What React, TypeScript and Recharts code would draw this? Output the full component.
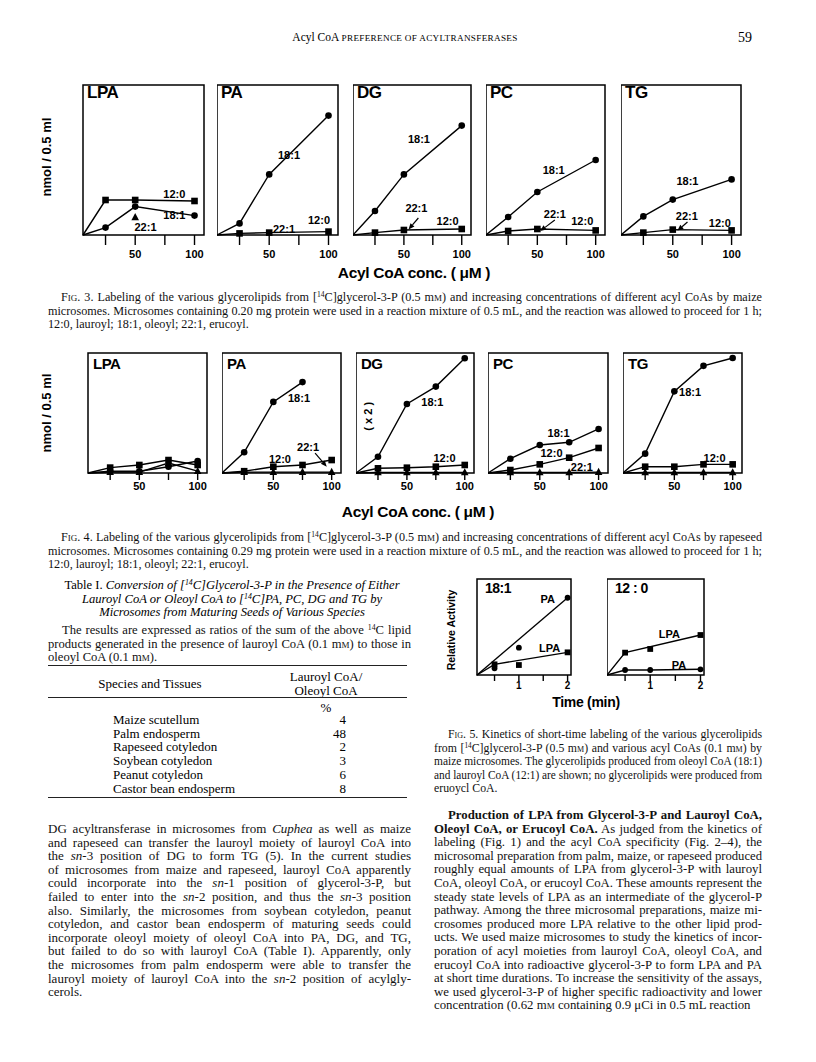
import React, { useLayoutEffect, useRef, useState } from 'react';
import { ComposedChart, Line, XAxis, YAxis, ReferenceArea, ReferenceDot, ReferenceLine } from 'recharts';

const SANS = '"Liberation Sans", Arial, Helvetica, sans-serif';
const SERIF = '"Liberation Serif", "Times New Roman", Times, serif';

// ---- Fig. 3: maize microsomes, nmol / 0.5 ml against acyl CoA conc. (uM)
// first x value is the origin drawn at the frame corner
const CONC_3 = [6, 25, 50, 100];
const LPA3_120 = [0, 0.175, 0.175, 0.17];
const LPA3_181 = [0, 0.037, 0.142, 0.097];
const LPA3_221 = [null, null, 0.088, null];
const PA3_181 = [0, 0.058, 0.303, 0.597];
const PA3_120 = [0, 0.008, 0.012, 0.017];
const DG3_181 = [0, 0.12, 0.303, 0.547];
const DG3_120 = [0, 0.012, 0.025, 0.03];
const PC3_181 = [0, 0.09, 0.215, 0.375];
const PC3_120 = [0, 0.02, 0.03, 0.023];
const TG3_181 = [0, 0.093, 0.177, 0.278];
const TG3_120 = [0, 0.012, 0.027, 0.023];

// ---- Fig. 4: rapeseed microsomes
const CONC_4 = [6, 25, 50, 75, 100];
const LPA4_120 = [0, 0.06, 0.089, 0.144, 0.089];
const LPA4_181 = [0, 0.02, 0.02, 0.07, 0.133];
const LPA4_221 = [0, 0.01, 0.01, 0.11, 0.02];
const PA4_181 = [0, 0.23, 0.79, 1.01, null];
const PA4_120 = [0, 0.02, 0.07, 0.089, 0.144];
const PA4_221 = [0, 0.01, 0.01, 0.01, 0.01];
const DG4_181 = [0, 0.18, 0.767, 0.96, 1.274];
const DG4_120 = [0, 0.052, 0.059, 0.07, 0.089];
const DG4_221 = [0, 0.005, 0.005, 0.005, 0.005];
const PC4_181 = [0, 0.159, 0.311, 0.341, 0.489];
const PC4_120 = [0, 0.033, 0.096, 0.17, 0.278];
const PC4_221 = [0, 0.005, 0.005, 0.005, 0.01];
const TG4_181 = [0, 0.215, 0.907, 1.19, 1.278];
const TG4_120 = [0, 0.07, 0.07, 0.096, 0.096];
const TG4_221 = [0, 0.005, 0.005, 0.005, 0.005];

// ---- Fig. 5: relative activity against time (min); fitted lines drawn separately from points
const TIME_5 = [0.14, 0.5, 1, 2];
const K18_PA_PTS = [null, 9, 36.4, 103];
const K18_PA_FIT = [0, null, null, 103];
const K18_LPA_PTS = [null, 14.2, 13.3, 30.2];
const K18_LPA_FIT = [0, 14.2, null, 30.2];
const K12_LPA_PTS = [null, 29.8, 34.7, 53.3];
const K12_LPA_FIT = [0, 29.8, null, 53.3];
const K12_PA_PTS = [null, 6.7, 6.7, 7.6];
const K12_PA_FIT = [0, 6.7, 6.7, 7.6];

// ---- Table I
const SPECIES = ['Maize scutellum', 'Palm endosperm', 'Rapeseed cotyledon', 'Soybean cotyledon', 'Peanut cotyledon', 'Castor bean endosperm'];
const RATIO = [4, 48, 2, 3, 6, 8];

const rowsOf = (xs: number[], cols: Record<string, (number | null)[]>) =>
  xs.map((x, i) => {
    const r: any = { x };
    Object.keys(cols).forEach((k) => (r[k] = cols[k][i]));
    return r;
  });

const markDot = (kind: string, s = 3.3) => (d: any) => {
  const { cx, cy, index, value } = d;
  if (index === 0 || value == null || cx == null || cy == null || isNaN(cy)) return <g key={`e${index}`} />;
  if (kind === 'circle') return <circle key={index} cx={cx} cy={cy} r={s} fill="#000" />;
  if (kind === 'square') return <rect key={index} x={cx - s} y={cy - s} width={s * 2} height={s * 2} fill="#000" />;
  return <path key={index} d={`M${cx},${cy - s * 1.3}L${cx + s * 1.15},${cy + s * 0.85}L${cx - s * 1.15},${cy + s * 0.85}Z`} fill="#000" />;
};

const arrowShape = (p: any) => {
  const { x1, y1, x2, y2 } = p;
  if (x1 == null || x2 == null) return <g />;
  const a = Math.atan2(y2 - y1, x2 - x1);
  const L = 6;
  const W = 2.6;
  const bx = x2 - L * Math.cos(a);
  const by = y2 - L * Math.sin(a);
  const px = -Math.sin(a) * W;
  const py = Math.cos(a) * W;
  return (
    <g>
      <line x1={x1} y1={y1} x2={bx} y2={by} stroke="#000" strokeWidth={1.2} />
      <path d={`M${x2},${y2}L${bx + px},${by + py}L${bx - px},${by - py}Z`} fill="#000" />
    </g>
  );
};

type Series = { key: string; mark?: string; line?: boolean };
type Note = { x: number; y: number; t: string; rot?: boolean };
type Arrow = { x1: number; y1: number; x2: number; y2: number };

interface PanelProps {
  left: number;
  top: number;
  w: number;
  h: number;
  title: string;
  titleSize: number;
  titleDx: number;
  titleDy: number;
  rows: any[];
  series: Series[];
  xDomain: [number, number];
  xTicks: number[];
  xLabel: (v: number) => string;
  tickSize: number;
  tickMargin: number;
  tickFont: number;
  yDomain: [number, number];
  yTicks: number[];
  yLabel?: (v: number) => string;
  labW?: number;
  labMargin?: number;
  notes?: Note[];
  arrows?: Arrow[];
  markSize?: number;
}

const Panel = (p: PanelProps) => {
  const labW = p.yLabel ? p.labW || 30 : 0;
  const pad = 3;
  const xh = 30;
  const W = labW + p.w + pad;
  const H = pad + p.h + xh;
  const tickFont = { fill: '#000', fontSize: p.tickFont, fontWeight: 700, fontFamily: SANS };
  return (
    <div style={{ position: 'absolute', left: p.left - labW, top: p.top - pad, width: W, height: H }}>
      <ComposedChart width={W} height={H} data={p.rows} margin={{ top: pad, right: pad, bottom: 0, left: 0 }}>
        <XAxis
          xAxisId="x"
          type="number"
          dataKey="x"
          domain={p.xDomain}
          ticks={p.xTicks}
          interval={0}
          tickFormatter={p.xLabel}
          height={xh}
          tickSize={p.tickSize}
          tickMargin={p.tickMargin}
          axisLine={false}
          tickLine={{ stroke: '#000', strokeWidth: 1.4 }}
          tick={tickFont}
        />
        <YAxis
          yAxisId="y"
          type="number"
          domain={p.yDomain}
          ticks={p.yTicks}
          mirror
          tick={false}
          tickSize={8}
          axisLine={false}
          tickLine={{ stroke: '#000', strokeWidth: 1.3 }}
        />
        {p.yLabel && (
          <YAxis
            yAxisId="lab"
            type="number"
            domain={p.yDomain}
            ticks={p.yTicks}
            width={labW}
            tickFormatter={p.yLabel}
            tickLine={false}
            axisLine={false}
            tickSize={0}
            tickMargin={p.labMargin || 3}
            tick={tickFont}
          />
        )}
        <ReferenceArea
          xAxisId="x"
          yAxisId="y"
          x1={p.xDomain[0]}
          x2={p.xDomain[1]}
          y1={p.yDomain[0]}
          y2={p.yDomain[1]}
          fill="none"
          fillOpacity={0}
          stroke="#000"
          strokeWidth={1.5}
          ifOverflow="visible"
        />
        {p.series.map((s) => (
          <Line
            key={s.key}
            xAxisId="x"
            yAxisId="y"
            dataKey={s.key}
            type="linear"
            stroke={s.line === false ? 'none' : '#000'}
            strokeWidth={1.4}
            dot={s.mark ? markDot(s.mark, p.markSize || 3.3) : false}
            activeDot={false}
            connectNulls
            isAnimationActive={false}
          />
        ))}
        {(p.arrows || []).map((a, i) => (
          <ReferenceLine
            key={`a${i}`}
            xAxisId="x"
            yAxisId="y"
            segment={[{ x: a.x1, y: a.y1 }, { x: a.x2, y: a.y2 }]}
            ifOverflow="visible"
            shape={arrowShape}
          />
        ))}
        {(p.notes || []).map((n, i) => (
          <ReferenceDot
            key={`n${i}`}
            xAxisId="x"
            yAxisId="y"
            x={n.x}
            y={n.y}
            r={0}
            ifOverflow="visible"
            shape={(d: any) => (
              <text
                x={d.cx}
                y={d.cy}
                textAnchor="middle"
                dominantBaseline="central"
                fontFamily={SANS}
                fontWeight={700}
                fontSize={11}
                fill="#000"
                transform={n.rot ? `rotate(-90 ${d.cx} ${d.cy})` : undefined}
              >
                {n.t}
              </text>
            )}
          />
        ))}
      </ComposedChart>
      <div
        style={{
          position: 'absolute',
          left: labW + p.titleDx,
          top: pad + p.titleDy,
          fontFamily: SANS,
          fontWeight: 700,
          fontSize: p.titleSize,
          lineHeight: `${p.titleSize}px`,
          letterSpacing: -0.5,
          whiteSpace: 'pre',
        }}
      >
        {p.title}
      </div>
    </div>
  );
};

const f50 = (v: number) => (v === 50 || v === 100 ? String(v) : '');
const f3y = (v: number) => v.toFixed(1);
const f5x = (v: number) => (v === 1 || v === 2 ? String(v) : '');

const S181: Series = { key: 'c181', mark: 'circle' };
const S120: Series = { key: 'c120', mark: 'square' };
const S221: Series = { key: 'c221', mark: 'triangle' };

const F3_COMMON = {
  top: 85,
  h: 150,
  titleSize: 17,
  titleDx: 4,
  titleDy: -1,
  xDomain: [6, 108] as [number, number],
  xTicks: [25, 50, 75, 100],
  xLabel: f50,
  tickSize: 10,
  tickMargin: 5,
  tickFont: 11,
  yDomain: [0, 0.75] as [number, number],
  yTicks: [0.3, 0.6],
};

const F4_COMMON = {
  top: 353,
  h: 120,
  titleSize: 15,
  titleDx: 5,
  titleDy: 3,
  xDomain: [6, 108] as [number, number],
  xTicks: [25, 50, 75, 100],
  xLabel: f50,
  tickSize: 7,
  tickMargin: 2,
  tickFont: 11,
  yDomain: [0, 1.333] as [number, number],
  yTicks: [0.5, 1.0],
};

const F5_COMMON = {
  top: 579,
  h: 96,
  titleSize: 14,
  titleDx: 8,
  titleDy: 2,
  xDomain: [0.14, 2.07] as [number, number],
  xTicks: [0.5, 1, 1.5, 2],
  xLabel: f5x,
  tickSize: 6,
  tickMargin: 1,
  tickFont: 10,
  yDomain: [0, 128] as [number, number],
  yTicks: [50, 100],
  markSize: 2.9,
};

const SC = ({ children }: any) => <span style={{ fontVariant: 'small-caps' }}>{children}</span>;
const MM = () => (
  <>
    m<SC>m</SC>
  </>
);
const Sup = ({ children }: any) => (
  <span style={{ fontSize: '0.62em', verticalAlign: '0.5em', lineHeight: 0 }}>{children}</span>
);

// one typeset line, justified to its measure (word spacing widened, or squeezed if too long)
const TLine = ({ x, y, w, indent = 0, last = false, size = 13, children }: any) => {
  const ref = useRef<HTMLSpanElement>(null);
  const [fit, setFit] = useState<any>(null);
  useLayoutEffect(() => {
    const el = ref.current;
    if (!el || fit) return;
    const nat = el.getBoundingClientRect().width;
    const avail = w - indent;
    const gaps = ((el.textContent || '').match(/ /g) || []).length;
    if (nat > avail) setFit({ transform: `scaleX(${avail / nat})` });
    else if (!last && gaps > 0) setFit({ wordSpacing: `${(avail - nat) / gaps}px` });
    else setFit({});
  }, [fit, w, indent, last]);
  return (
    <div
      style={{
        position: 'absolute',
        left: x + indent,
        top: y - 9,
        height: 18,
        lineHeight: '18px',
        fontFamily: SERIF,
        fontSize: size,
        color: '#111',
        whiteSpace: 'nowrap',
      }}
    >
      <span ref={ref} style={{ display: 'inline-block', transformOrigin: '0 50%', ...(fit || {}) }}>
        {children}
      </span>
    </div>
  );
};

const CText = ({ cx, cy, size, children, family = SANS, weight = 700, rot = false, style }: any) => (
  <div
    style={{
      position: 'absolute',
      left: cx,
      top: cy,
      transform: `translate(-50%, -50%)${rot ? ' rotate(-90deg)' : ''}`,
      whiteSpace: 'nowrap',
      fontFamily: family,
      fontWeight: weight,
      fontSize: size,
      lineHeight: 1,
      color: '#000',
      ...style,
    }}
  >
    {children}
  </div>
);

const LEFT_X = 48;
const LEFT_W = 363;
const RIGHT_X = 434;
const RIGHT_W = 328;
const FULL_W = 714;
const LEAD = 13.6;

const App = () => {
  const fig3Caption = [
    <>
      <SC>Fig.</SC> 3. Labeling of the various glycerolipids from [<Sup>14</Sup>C]glycerol-3-P (0.5 <MM />) and increasing concentrations of different acyl CoAs by maize
    </>,
    <>microsomes. Microsomes containing 0.20 mg protein were used in a reaction mixture of 0.5 mL, and the reaction was allowed to proceed for 1 h;</>,
    <>12:0, lauroyl; 18:1, oleoyl; 22:1, erucoyl.</>,
  ];
  const fig4Caption = [
    <>
      <SC>Fig.</SC> 4. Labeling of the various glycerolipids from [<Sup>14</Sup>C]glycerol-3-P (0.5 <MM />) and increasing concentrations of different acyl CoAs by rapeseed
    </>,
    <>microsomes. Microsomes containing 0.29 mg protein were used in a reaction mixture of 0.5 mL, and the reaction was allowed to proceed for 1 h;</>,
    <>12:0, lauroyl; 18:1, oleoyl; 22:1, erucoyl.</>,
  ];
  const fig5Caption = [
    <>
      <SC>Fig.</SC> 5. Kinetics of short-time labeling of the various glycerolipids
    </>,
    <>
      from [<Sup>14</Sup>C]glycerol-3-P (0.5 <MM />) and various acyl CoAs (0.1 <MM />) by
    </>,
    <>maize microsomes. The glycerolipids produced from oleoyl CoA (18:1)</>,
    <>and lauroyl CoA (12:1) are shown; no glycerolipids were produced from</>,
    <>eruoycl CoA.</>,
  ];
  const leftBody = [
    <>
      DG acyltransferase in microsomes from <i>Cuphea</i> as well as maize
    </>,
    <>and rapeseed can transfer the lauroyl moiety of lauroyl CoA into</>,
    <>
      the <i>sn</i>-3 position of DG to form TG (5). In the current studies
    </>,
    <>of microsomes from maize and rapeseed, lauroyl CoA apparently</>,
    <>
      could incorporate into the <i>sn</i>-1 position of glycerol-3-P, but
    </>,
    <>
      failed to enter into the <i>sn</i>-2 position, and thus the <i>sn</i>-3 position
    </>,
    <>also. Similarly, the microsomes from soybean cotyledon, peanut</>,
    <>cotyledon, and castor bean endosperm of maturing seeds could</>,
    <>incorporate oleoyl moiety of oleoyl CoA into PA, DG, and TG,</>,
    <>but failed to do so with lauroyl CoA (Table I). Apparently, only</>,
    <>the microsomes from palm endosperm were able to transfer the</>,
    <>
      lauroyl moiety of lauroyl CoA into the <i>sn</i>-2 position of acylgly-
    </>,
    <>cerols.</>,
  ];
  const rightBody = [
    <b>Production of LPA from Glycerol-3-P and Lauroyl CoA,</b>,
    <>
      <b>Oleoyl CoA, or Erucoyl CoA.</b> As judged from the kinetics of
    </>,
    <>labeling (Fig. 1) and the acyl CoA specificity (Fig. 2–4), the</>,
    <>microsomal preparation from palm, maize, or rapeseed produced</>,
    <>roughly equal amounts of LPA from glycerol-3-P with lauroyl</>,
    <>CoA, oleoyl CoA, or erucoyl CoA. These amounts represent the</>,
    <>steady state levels of LPA as an intermediate of the glycerol-P</>,
    <>pathway. Among the three microsomal preparations, maize mi-</>,
    <>crosomes produced more LPA relative to the other lipid prod-</>,
    <>ucts. We used maize microsomes to study the kinetics of incor-</>,
    <>poration of acyl moieties from lauroyl CoA, oleoyl CoA, and</>,
    <>erucoyl CoA into radioactive glycerol-3-P to form LPA and PA</>,
    <>at short time durations. To increase the sensitivity of the assays,</>,
    <>we used glycerol-3-P of higher specific radioactivity and lower</>,
    <>
      concentration (0.62 <MM /> containing 0.9 μCi in 0.5 mL reaction
    </>,
  ];
  const tableTitle = [
    <>
      Table I. <i>Conversion of [<Sup>14</Sup>C]Glycerol-3-P in the Presence of Either</i>
    </>,
    <i>
      Lauroyl CoA or Oleoyl CoA to [<Sup>14</Sup>C]PA, PC, DG and TG by
    </i>,
    <i>Microsomes from Maturing Seeds of Various Species</i>,
  ];
  const tableNote = [
    <>
      The results are expressed as ratios of the sum of the above <Sup>14</Sup>C lipid
    </>,
    <>
      products generated in the presence of lauroyl CoA (0.1 <MM />) to those in
    </>,
    <>
      oleoyl CoA (0.1 <MM />).
    </>,
  ];

  return (
    <div style={{ position: 'absolute', left: 0, top: 0, width: 816, height: 1062, background: '#fff', overflow: 'hidden' }}>
      {/* running head */}
      <CText cx={405} cy={38} size={11.5} family={SERIF} weight={400}>
        Acyl CoA <span style={{ fontSize: 9.2, letterSpacing: 0.3 }}>PREFERENCE OF ACYLTRANSFERASES</span>
      </CText>
      <CText cx={745} cy={38} size={14} family={SERIF} weight={400}>
        59
      </CText>

      {/* Fig. 3 */}
      <CText cx={46} cy={157} size={13} rot>
        nmol / 0.5 ml
      </CText>
      <Panel
        {...F3_COMMON}
        left={83}
        w={121}
        title="LPA"
        rows={rowsOf(CONC_3, { c120: LPA3_120, c181: LPA3_181, c221: LPA3_221 })}
        series={[S120, S181, { ...S221, line: false }]}
        yLabel={f3y}
        labW={30}
        labMargin={3}
        notes={[
          { x: 83, y: 0.205, t: '12:0' },
          { x: 83, y: 0.1, t: '18:1' },
          { x: 58.7, y: 0.04, t: '22:1' },
        ]}
      />
      <Panel
        {...F3_COMMON}
        left={217}
        w={121}
        title="PA"
        rows={rowsOf(CONC_3, { c181: PA3_181, c120: PA3_120 })}
        series={[S181, S120]}
        notes={[
          { x: 66.7, y: 0.398, t: '18:1' },
          { x: 62.5, y: 0.03, t: '22:1' },
          { x: 92, y: 0.075, t: '12:0' },
        ]}
      />
      <Panel
        {...F3_COMMON}
        left={353}
        w={118}
        title="DG"
        rows={rowsOf(CONC_3, { c181: DG3_181, c120: DG3_120 })}
        series={[S181, S120]}
        notes={[
          { x: 63, y: 0.48, t: '18:1' },
          { x: 60.8, y: 0.135, t: '22:1' },
          { x: 87.8, y: 0.0725, t: '12:0' },
        ]}
        arrows={[{ x1: 62.5, y1: 0.085, x2: 54, y2: 0.028 }]}
      />
      <Panel
        {...F3_COMMON}
        left={486}
        w={119}
        title="PC"
        rows={rowsOf(CONC_3, { c181: PC3_181, c120: PC3_120 })}
        series={[S181, S120]}
        notes={[
          { x: 64, y: 0.3275, t: '18:1' },
          { x: 65, y: 0.1075, t: '22:1' },
          { x: 88.5, y: 0.0725, t: '12:0' },
        ]}
        arrows={[{ x1: 65, y1: 0.075, x2: 52.5, y2: 0.02 }]}
      />
      <Panel
        {...F3_COMMON}
        left={621}
        w={120}
        title="TG"
        rows={rowsOf(CONC_3, { c181: TG3_181, c120: TG3_120 })}
        series={[S181, S120]}
        notes={[
          { x: 62.5, y: 0.2725, t: '18:1' },
          { x: 62, y: 0.0975, t: '22:1' },
          { x: 90, y: 0.06, t: '12:0' },
        ]}
        arrows={[{ x1: 62.5, y1: 0.065, x2: 54, y2: 0.022 }]}
      />
      <CText cx={414} cy={273} size={15.5} style={{ letterSpacing: -0.3 }}>
        Acyl CoA conc. ( μM )
      </CText>
      {fig3Caption.map((c, i) => (
        <TLine key={`c3${i}`} x={LEFT_X} y={297 + i * LEAD} w={FULL_W} indent={i === 0 ? 13 : 0} last={i === 2} size={12.2}>
          {c}
        </TLine>
      ))}

      {/* Fig. 4 */}
      <CText cx={46} cy={413} size={13} rot>
        nmol / 0.5 ml
      </CText>
      <Panel
        {...F4_COMMON}
        left={88}
        w={119}
        title="LPA"
        rows={rowsOf(CONC_4, { c120: LPA4_120, c181: LPA4_181, c221: LPA4_221 })}
        series={[S120, S181, S221]}
        yLabel={f3y}
        labW={30}
        labMargin={4}
      />
      <Panel
        {...F4_COMMON}
        left={222}
        w={119}
        title="PA"
        rows={rowsOf(CONC_4, { c181: PA4_181, c120: PA4_120, c221: PA4_221 })}
        series={[S181, S120, S221]}
        notes={[
          { x: 72, y: 0.83, t: '18:1' },
          { x: 55.7, y: 0.155, t: '12:0' },
          { x: 79.8, y: 0.29, t: '22:1' },
        ]}
        arrows={[{ x1: 85.8, y1: 0.22, x2: 95.8, y2: 0.07 }]}
      />
      <Panel
        {...F4_COMMON}
        left={356}
        w={118}
        title="DG"
        rows={rowsOf(CONC_4, { c181: DG4_181, c120: DG4_120, c221: DG4_221 })}
        series={[S181, S120, S221]}
        notes={[
          { x: 16.3, y: 0.63, t: '( x 2 )', rot: true },
          { x: 72, y: 0.794, t: '18:1' },
          { x: 82.5, y: 0.167, t: '12:0' },
        ]}
      />
      <Panel
        {...F4_COMMON}
        left={488}
        w={120}
        title="PC"
        rows={rowsOf(CONC_4, { c181: PC4_181, c120: PC4_120, c221: PC4_221 })}
        series={[S181, S120, S221]}
        notes={[
          { x: 66, y: 0.439, t: '18:1' },
          { x: 60, y: 0.222, t: '12:0' },
          { x: 85.8, y: 0.072, t: '22:1' },
        ]}
      />
      <Panel
        {...F4_COMMON}
        left={623}
        w={119}
        title="TG"
        rows={rowsOf(CONC_4, { c181: TG4_181, c120: TG4_120, c221: TG4_221 })}
        series={[S181, S120, S221]}
        notes={[
          { x: 63.5, y: 0.9, t: '18:1' },
          { x: 84.5, y: 0.167, t: '12:0' },
        ]}
      />
      <CText cx={418} cy={512} size={15.5} style={{ letterSpacing: -0.3 }}>
        Acyl CoA conc. ( μM )
      </CText>
      {fig4Caption.map((c, i) => (
        <TLine key={`c4${i}`} x={LEFT_X} y={537 + i * LEAD} w={FULL_W} indent={i === 0 ? 13 : 0} last={i === 2} size={12.2}>
          {c}
        </TLine>
      ))}

      {/* Table I */}
      {tableTitle.map((c, i) => (
        <CText key={`tt${i}`} cx={232} cy={585 + i * LEAD} size={12.6} family={SERIF} weight={400}>
          {c}
        </CText>
      ))}
      {tableNote.map((c, i) => (
        <TLine key={`tn${i}`} x={LEFT_X} y={630 + i * LEAD} w={LEFT_W} indent={i === 0 ? 14 : 0} last={i === 2} size={12.6}>
          {c}
        </TLine>
      ))}
      <div style={{ position: 'absolute', left: LEFT_X, top: 665, width: LEFT_W - 4, borderTop: '1.5px solid #222' }} />
      <CText cx={150} cy={683} size={13} family={SERIF} weight={400}>
        Species and Tissues
      </CText>
      <CText cx={326} cy={676} size={13} family={SERIF} weight={400}>
        Lauroyl CoA/
      </CText>
      <CText cx={326} cy={690} size={13} family={SERIF} weight={400}>
        Oleoyl CoA
      </CText>
      <div style={{ position: 'absolute', left: LEFT_X, top: 697, width: LEFT_W - 4, borderTop: '1px solid #222' }} />
      <CText cx={326} cy={707} size={13} family={SERIF} weight={400}>
        %
      </CText>
      {SPECIES.map((s, i) => (
        <React.Fragment key={s}>
          <div style={{ position: 'absolute', left: 113, top: 720 + i * 13.7 - 9, lineHeight: '18px', fontFamily: SERIF, fontSize: 13, whiteSpace: 'nowrap' }}>{s}</div>
          <div style={{ position: 'absolute', left: 300, width: 46, textAlign: 'right', top: 720 + i * 13.7 - 9, lineHeight: '18px', fontFamily: SERIF, fontSize: 13 }}>{RATIO[i]}</div>
        </React.Fragment>
      ))}
      <div style={{ position: 'absolute', left: LEFT_X, top: 797, width: LEFT_W - 4, borderTop: '1.5px solid #222' }} />

      {/* left column body */}
      {leftBody.map((c, i) => (
        <TLine key={`lb${i}`} x={LEFT_X} y={829 + i * LEAD} w={LEFT_W} last={i === leftBody.length - 1} size={13}>
          {c}
        </TLine>
      ))}

      {/* Fig. 5 */}
      <CText cx={451} cy={630} size={10.5} rot>
        Relative Activity
      </CText>
      <Panel
        {...F5_COMMON}
        left={477}
        w={94}
        title="18:1"
        rows={rowsOf(TIME_5, { paFit: K18_PA_FIT, paPts: K18_PA_PTS, lpaFit: K18_LPA_FIT, lpaPts: K18_LPA_PTS })}
        series={[
          { key: 'paFit' },
          { key: 'paPts', mark: 'circle', line: false },
          { key: 'lpaFit' },
          { key: 'lpaPts', mark: 'square', line: false },
        ]}
        yLabel={(v: number) => String(v)}
        labW={30}
        labMargin={9}
        notes={[
          { x: 1.59, y: 102, t: 'PA' },
          { x: 1.63, y: 36, t: 'LPA' },
        ]}
      />
      <Panel
        {...F5_COMMON}
        left={607}
        w={97}
        title="12 : 0"
        rows={rowsOf(TIME_5, { lpaFit: K12_LPA_FIT, lpaPts: K12_LPA_PTS, paFit: K12_PA_FIT, paPts: K12_PA_PTS })}
        series={[
          { key: 'lpaFit' },
          { key: 'lpaPts', mark: 'square', line: false },
          { key: 'paFit' },
          { key: 'paPts', mark: 'circle', line: false },
        ]}
        notes={[
          { x: 1.38, y: 55.3, t: 'LPA' },
          { x: 1.57, y: 13.3, t: 'PA' },
        ]}
      />
      <CText cx={586} cy={702} size={14} style={{ letterSpacing: -0.3 }}>
        Time (min)
      </CText>
      {fig5Caption.map((c, i) => (
        <TLine key={`c5${i}`} x={RIGHT_X} y={734 + i * LEAD} w={RIGHT_W} indent={i === 0 ? 14 : 0} last={i === fig5Caption.length - 1} size={11.8}>
          {c}
        </TLine>
      ))}

      {/* right column body */}
      {rightBody.map((c, i) => (
        <TLine key={`rb${i}`} x={RIGHT_X} y={815 + i * LEAD} w={RIGHT_W} indent={i === 0 ? 14 : 0} last={i === rightBody.length - 1} size={12.8}>
          {c}
        </TLine>
      ))}
    </div>
  );
};

export default App;
